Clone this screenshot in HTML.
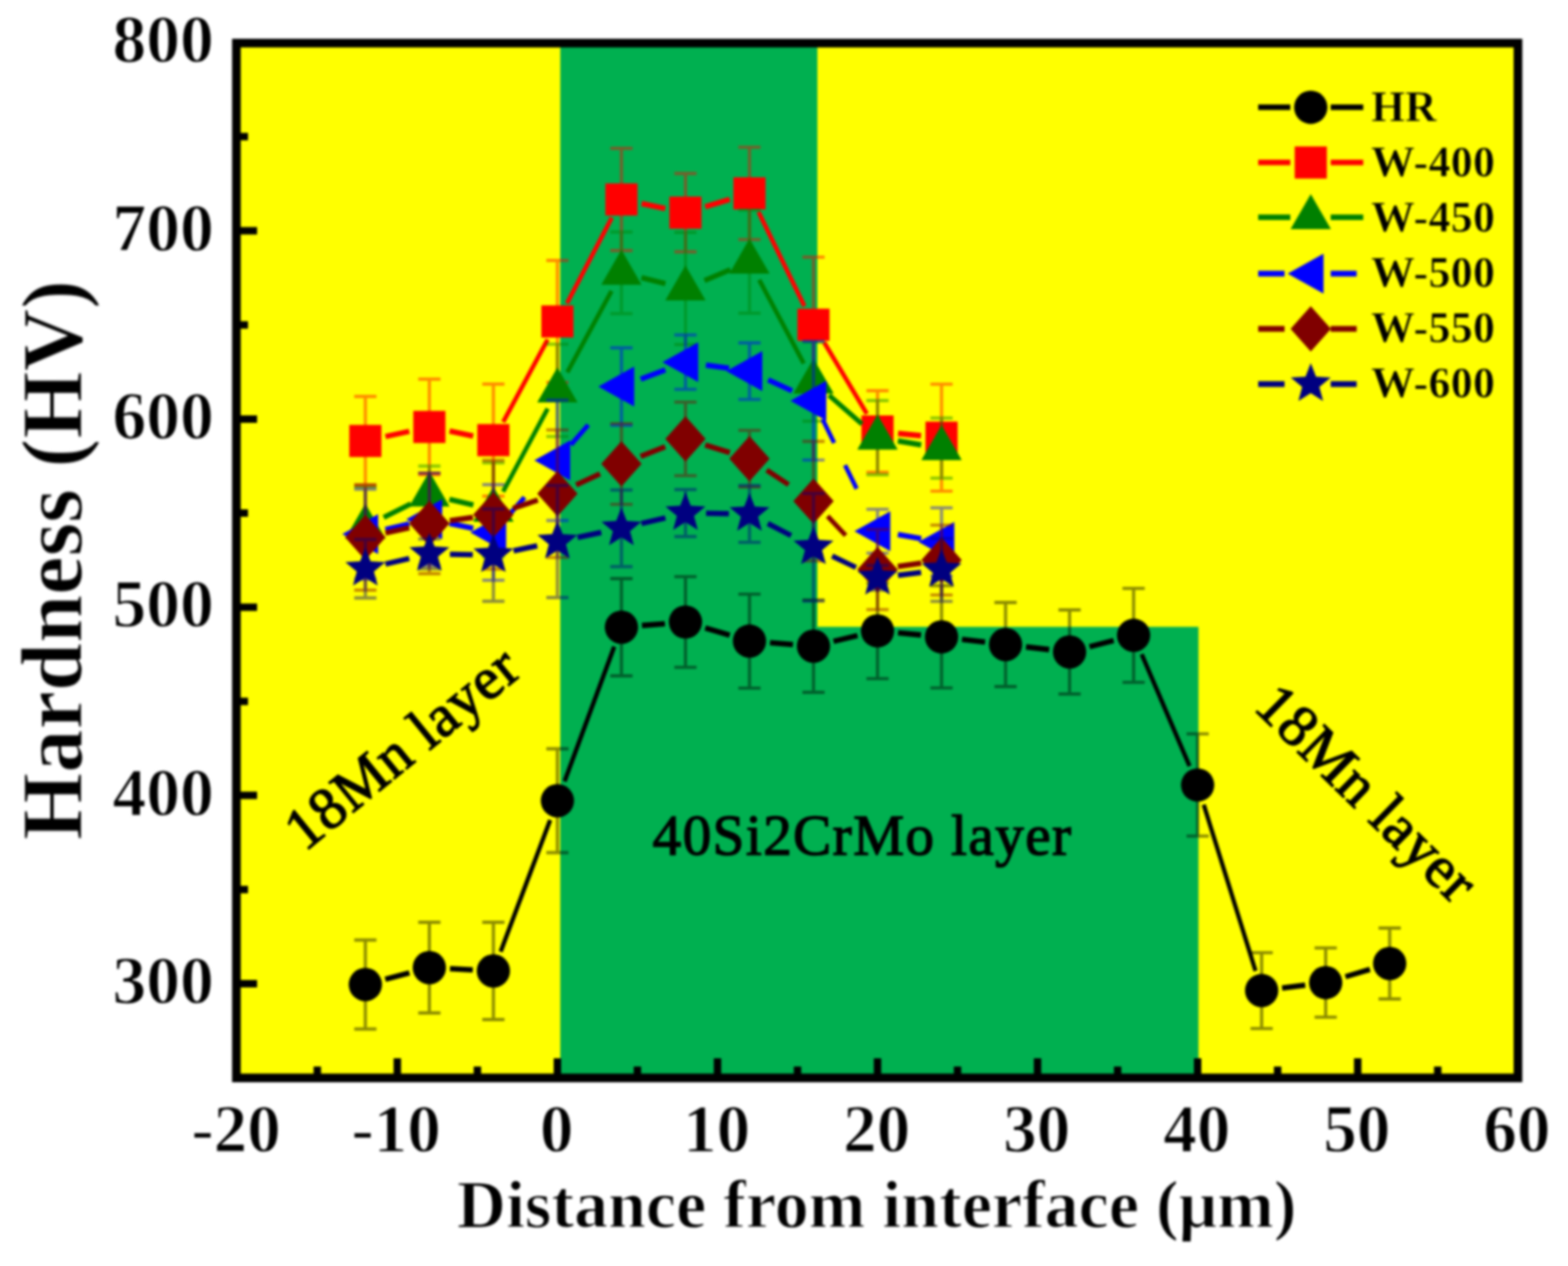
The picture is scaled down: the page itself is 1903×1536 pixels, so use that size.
<!DOCTYPE html>
<html lang="en"><head><meta charset="utf-8"><title>Hardness (HV) vs distance from interface</title>
<style>html,body{margin:0;padding:0;background:#fff}body{width:1903px;height:1536px}svg{display:block}text{font-family:"Liberation Serif","DejaVu Serif",serif;fill:#000}.b{font-weight:bold;stroke:#fff;stroke-width:1.4px}.l{stroke:#ff0;stroke-width:0.7px}.a{stroke:#000;stroke-width:1.6px}</style></head><body>
<svg width="1903" height="1536" viewBox="0 0 1903 1536">
<defs><filter id="soft" x="-2%" y="-2%" width="104%" height="104%" color-interpolation-filters="sRGB"><feGaussianBlur stdDeviation="1.5"/></filter></defs>
<rect width="1903" height="1536" fill="#fff"/>
<g filter="url(#soft)">
<rect x="288.0" y="52.8" width="1554.0" height="1254.7" fill="#ffff00"/>
<rect x="680" y="52.8" width="312" height="1254.7" fill="#00b050"/>
<rect x="680" y="760.5" width="774.5" height="547.0" fill="#00b050"/>
<text class="a" x="792" y="1037" font-size="69.5" letter-spacing="1.67">40Si2CrMo layer</text>
<text class="a" transform="translate(370,1034) rotate(-39.2)" font-size="72" letter-spacing="0.9">18Mn layer</text>
<text class="a" transform="translate(1520,859.5) rotate(44.4)" font-size="72" letter-spacing="0.9">18Mn layer</text>
<path d="M443.4 1140.5V1248.5M429.9 1140.5h27M429.9 1248.5h27M521.1 1119V1229M507.6 1119h27M507.6 1229h27M598.8 1119V1237M585.3 1119h27M585.3 1237h27M676.5 908.5V1034.5M663 908.5h27M663 1034.5h27M754.2 702V820M740.7 702h27M740.7 820h27M831.9 699.6V809.6M818.4 699.6h27M818.4 809.6h27M909.6 720.8V834.8M896.1 720.8h27M896.1 834.8h27M987.3 728V840M973.8 728h27M973.8 840h27M1065 707.4V823.4M1051.5 707.4h27M1051.5 823.4h27M1142.7 710.7V834.7M1129.2 710.7h27M1129.2 834.7h27M1220.4 731V833M1206.9 731h27M1206.9 833h27M1298.1 740V842M1284.6 740h27M1284.6 842h27M1375.8 713.8V827.8M1362.3 713.8h27M1362.3 827.8h27M1453.5 890.4V1014.4M1440 890.4h27M1440 1014.4h27M1531.2 1155.8V1247.8M1517.7 1155.8h27M1517.7 1247.8h27M1608.9 1150.2V1234.2M1595.4 1150.2h27M1595.4 1234.2h27M1686.6 1126V1212M1673.1 1126h27M1673.1 1212h27" stroke="#000000" stroke-opacity="0.45" stroke-width="3.8" fill="none"/>
<g stroke="#000000" stroke-width="6.5" fill="none">
<line x1="467.6" y1="1188.1" x2="496.9" y2="1180.4" stroke-width="6.5"/>
<line x1="546.1" y1="1175.3" x2="573.8" y2="1176.7" stroke-width="6.6"/>
<line x1="607.6" y1="1154.6" x2="667.7" y2="994.9" stroke-width="5.2"/>
<line x1="685.2" y1="948" x2="745.5" y2="784.5" stroke-width="5.2"/>
<line x1="779.1" y1="758.9" x2="807" y2="756.7" stroke-width="6.6"/>
<line x1="855.9" y1="761.8" x2="885.6" y2="770.6" stroke-width="6.5"/>
<line x1="934.5" y1="779.8" x2="962.4" y2="782" stroke-width="6.6"/>
<line x1="1011.6" y1="778.2" x2="1040.7" y2="771.2" stroke-width="6.5"/>
<line x1="1089.9" y1="767.7" x2="1117.8" y2="770.4" stroke-width="6.6"/>
<line x1="1167.5" y1="775.7" x2="1195.6" y2="779" stroke-width="6.6"/>
<line x1="1245.2" y1="784.9" x2="1273.3" y2="788.1" stroke-width="6.6"/>
<line x1="1322.3" y1="784.7" x2="1351.6" y2="777.1" stroke-width="6.5"/>
<line x1="1385.6" y1="793.8" x2="1443.7" y2="929.4" stroke-width="5.2"/>
<line x1="1460.9" y1="976.3" x2="1523.8" y2="1177.9" stroke-width="5.1"/>
<line x1="1556" y1="1198.7" x2="1584.1" y2="1195.3" stroke-width="6.6"/>
<line x1="1632.9" y1="1185" x2="1662.6" y2="1176.2" stroke-width="6.5"/>
</g>
<g>
<circle cx="443.4" cy="1194.5" r="20.2" fill="#000000"/>
<circle cx="521.1" cy="1174" r="20.2" fill="#000000"/>
<circle cx="598.8" cy="1178" r="20.2" fill="#000000"/>
<circle cx="676.5" cy="971.5" r="20.2" fill="#000000"/>
<circle cx="754.2" cy="761" r="20.2" fill="#000000"/>
<circle cx="831.9" cy="754.6" r="20.2" fill="#000000"/>
<circle cx="909.6" cy="777.8" r="20.2" fill="#000000"/>
<circle cx="987.3" cy="784" r="20.2" fill="#000000"/>
<circle cx="1065" cy="765.4" r="20.2" fill="#000000"/>
<circle cx="1142.7" cy="772.7" r="20.2" fill="#000000"/>
<circle cx="1220.4" cy="782" r="20.2" fill="#000000"/>
<circle cx="1298.1" cy="791" r="20.2" fill="#000000"/>
<circle cx="1375.8" cy="770.8" r="20.2" fill="#000000"/>
<circle cx="1453.5" cy="952.4" r="20.2" fill="#000000"/>
<circle cx="1531.2" cy="1201.8" r="20.2" fill="#000000"/>
<circle cx="1608.9" cy="1192.2" r="20.2" fill="#000000"/>
<circle cx="1686.6" cy="1169" r="20.2" fill="#000000"/>
</g>
<path d="M443.4 481V589M429.9 481h27M429.9 589h27M521.1 460V576M507.6 460h27M507.6 576h27M598.8 466V602M585.3 466h27M585.3 602h27M676.5 316V464M663 316h27M663 464h27M754.2 180V304M740.7 180h27M740.7 304h27M831.9 210.5V305.5M818.4 210.5h27M818.4 305.5h27M909.6 178.6V290.6M896.1 178.6h27M896.1 290.6h27M987.3 312V476M973.8 312h27M973.8 476h27M1065 474V573M1051.5 474h27M1051.5 573h27M1142.7 466.2V595.8M1129.2 466.2h27M1129.2 595.8h27" stroke="#ff0000" stroke-opacity="0.45" stroke-width="3.8" fill="none"/>
<g stroke="#ff0000" stroke-width="6.5" fill="none">
<line x1="467.8" y1="529.7" x2="496.7" y2="523.3" stroke-width="6.5"/>
<line x1="545.6" y1="523" x2="574.3" y2="529" stroke-width="6.5"/>
<line x1="610.7" y1="512" x2="664.6" y2="412" stroke-width="5.4"/>
<line x1="688.1" y1="367.9" x2="742.6" y2="264.1" stroke-width="5.3"/>
<line x1="778.7" y1="247" x2="807.4" y2="253" stroke-width="6.5"/>
<line x1="855.8" y1="250.8" x2="885.7" y2="241.8" stroke-width="6.5"/>
<line x1="920.6" y1="257.1" x2="976.3" y2="371.5" stroke-width="5.3"/>
<line x1="1000.2" y1="415.4" x2="1052.1" y2="502.1" stroke-width="5.4"/>
<line x1="1089.9" y1="525.9" x2="1117.8" y2="528.6" stroke-width="6.6"/>
</g>
<g>
<rect x="423.9" y="515.5" width="39" height="39" fill="#ff0000"/>
<rect x="501.6" y="498.5" width="39" height="39" fill="#ff0000"/>
<rect x="579.3" y="514.5" width="39" height="39" fill="#ff0000"/>
<rect x="657" y="370.5" width="39" height="39" fill="#ff0000"/>
<rect x="734.7" y="222.5" width="39" height="39" fill="#ff0000"/>
<rect x="812.4" y="238.5" width="39" height="39" fill="#ff0000"/>
<rect x="890.1" y="215.1" width="39" height="39" fill="#ff0000"/>
<rect x="967.8" y="374.5" width="39" height="39" fill="#ff0000"/>
<rect x="1045.5" y="504" width="39" height="39" fill="#ff0000"/>
<rect x="1123.2" y="511.5" width="39" height="39" fill="#ff0000"/>
</g>
<path d="M443.4 591V687M429.9 591h27M429.9 687h27M521.1 565.5V634.5M507.6 565.5h27M507.6 634.5h27M598.8 561.5V675.5M585.3 561.5h27M585.3 675.5h27M676.5 417.7V529.7M663 417.7h27M663 529.7h27M754.2 281.5V380.5M740.7 281.5h27M740.7 380.5h27M831.9 282V418M818.4 282h27M818.4 418h27M909.6 255V380M896.1 255h27M896.1 380h27M987.3 415V511M973.8 415h27M973.8 511h27M1065 486V576M1051.5 486h27M1051.5 576h27M1142.7 507.2V580.2M1129.2 507.2h27M1129.2 580.2h27" stroke="#008000" stroke-opacity="0.45" stroke-width="3.8" fill="none"/>
<g stroke="#008000" stroke-width="6.5" fill="none">
<line x1="465.7" y1="627.8" x2="498.8" y2="611.2" stroke-width="6.3"/>
<line x1="545.4" y1="605.8" x2="574.5" y2="612.7" stroke-width="6.5"/>
<line x1="610.6" y1="596.5" x2="664.7" y2="495.7" stroke-width="5.4"/>
<line x1="688.5" y1="451.7" x2="742.2" y2="353" stroke-width="5.4"/>
<line x1="778.5" y1="336.9" x2="807.6" y2="344.1" stroke-width="6.5"/>
<line x1="855" y1="340.4" x2="886.5" y2="327.1" stroke-width="6.4"/>
<line x1="921.4" y1="339.6" x2="975.5" y2="440.9" stroke-width="5.4"/>
<line x1="1006.1" y1="479.5" x2="1046.2" y2="514.5" stroke-width="5.9"/>
<line x1="1089.7" y1="535" x2="1118" y2="539.7" stroke-width="6.6"/>
</g>
<g>
<polygon points="443.4,611 467.9,653.5 418.9,653.5" fill="#008000"/>
<polygon points="521.1,572 545.6,614.5 496.6,614.5" fill="#008000"/>
<polygon points="598.8,590.5 623.3,633 574.3,633" fill="#008000"/>
<polygon points="676.5,445.7 701,488.2 652,488.2" fill="#008000"/>
<polygon points="754.2,303 778.7,345.5 729.7,345.5" fill="#008000"/>
<polygon points="831.9,322 856.4,364.5 807.4,364.5" fill="#008000"/>
<polygon points="909.6,289.5 934.1,332 885.1,332" fill="#008000"/>
<polygon points="987.3,435 1011.8,477.5 962.8,477.5" fill="#008000"/>
<polygon points="1065,503 1089.5,545.5 1040.5,545.5" fill="#008000"/>
<polygon points="1142.7,515.7 1167.2,558.2 1118.2,558.2" fill="#008000"/>
</g>
<path d="M443.4 593.5V702.5M429.9 593.5h27M429.9 702.5h27M521.1 574V686M507.6 574h27M507.6 686h27M598.8 588V704M585.3 588h27M585.3 704h27M676.5 485.5V631.5M663 485.5h27M663 631.5h27M754.2 422V516M740.7 422h27M740.7 516h27M831.9 406.4V472.4M818.4 406.4h27M818.4 472.4h27M909.6 416V484.6M896.1 416h27M896.1 484.6h27M987.3 414.2V558.2M973.8 414.2h27M973.8 558.2h27M1065 617.9V671.1M1051.5 617.9h27M1051.5 671.1h27M1142.7 616.1V698.9M1129.2 616.1h27M1129.2 698.9h27" stroke="#0000ff" stroke-opacity="0.45" stroke-width="3.8" fill="none"/>
<g stroke="#0000ff" stroke-width="6.5" fill="none">
<line x1="467.8" y1="642.4" x2="496.7" y2="635.6" stroke-width="6.5"/>
<line x1="545.6" y1="635" x2="574.3" y2="641" stroke-width="6.5"/>
<line x1="615.4" y1="627.3" x2="636.6" y2="603.4" stroke-width="5.7"/>
<line x1="692.9" y1="539.6" x2="713.9" y2="515.5" stroke-width="5.7"/>
<line x1="777.6" y1="460.1" x2="807.5" y2="448.7" stroke-width="6.4"/>
<line x1="856.7" y1="442.9" x2="884.8" y2="446.8" stroke-width="6.6"/>
<line x1="932.3" y1="460.8" x2="961.3" y2="474.2" stroke-width="6.3"/>
<line x1="998.3" y1="508.6" x2="1012.4" y2="537.4" stroke-width="5.3"/>
<line x1="1025.6" y1="564.3" x2="1039.7" y2="593" stroke-width="5.3"/>
<line x1="1089.7" y1="648.6" x2="1118" y2="653.4" stroke-width="6.6"/>
</g>
<g>
<polygon points="415.4,648 458.9,623.8 458.9,672.2" fill="#0000ff"/>
<polygon points="493.1,630 536.6,605.8 536.6,654.2" fill="#0000ff"/>
<polygon points="570.8,646 614.3,621.8 614.3,670.2" fill="#0000ff"/>
<polygon points="648.5,558.5 692,534.3 692,582.7" fill="#0000ff"/>
<polygon points="726.2,469 769.7,444.8 769.7,493.2" fill="#0000ff"/>
<polygon points="803.9,439.4 847.4,415.2 847.4,463.6" fill="#0000ff"/>
<polygon points="881.6,450.3 925.1,426.1 925.1,474.5" fill="#0000ff"/>
<polygon points="959.3,486.2 1002.8,462 1002.8,510.4" fill="#0000ff"/>
<polygon points="1037,644.5 1080.5,620.3 1080.5,668.7" fill="#0000ff"/>
<polygon points="1114.7,657.5 1158.2,633.3 1158.2,681.7" fill="#0000ff"/>
</g>
<path d="M443.4 588V716M429.9 588h27M429.9 716h27M521.1 574V696M507.6 574h27M507.6 696h27M598.8 558.5V690.5M585.3 558.5h27M585.3 690.5h27M676.5 521.6V676.4M663 521.6h27M663 676.4h27M754.2 513.8V611.8M740.7 513.8h27M740.7 611.8h27M831.9 487.8V577.2M818.4 487.8h27M818.4 577.2h27M909.6 522.2V591M896.1 522.2h27M896.1 591h27M987.3 535.5V680.5M973.8 535.5h27M973.8 680.5h27M1065 642.4V739.6M1051.5 642.4h27M1051.5 739.6h27M1142.7 637.1V721.9M1129.2 637.1h27M1129.2 721.9h27" stroke="#800000" stroke-opacity="0.45" stroke-width="3.8" fill="none"/>
<g stroke="#800000" stroke-width="6.5" fill="none">
<line x1="467.8" y1="646.7" x2="496.7" y2="640.3" stroke-width="6.5"/>
<line x1="545.9" y1="631.7" x2="574" y2="627.8" stroke-width="6.6"/>
<line x1="622.6" y1="616.7" x2="652.7" y2="606.8" stroke-width="6.4"/>
<line x1="699.2" y1="588.4" x2="728.2" y2="574.9" stroke-width="6.3"/>
<line x1="777.5" y1="553.7" x2="807.3" y2="542.1" stroke-width="6.4"/>
<line x1="855.8" y1="539.9" x2="885.7" y2="549.2" stroke-width="6.5"/>
<line x1="930.5" y1="570.4" x2="957.1" y2="588" stroke-width="6.1"/>
<line x1="1004.4" y1="626.3" x2="1026.3" y2="649.6" stroke-width="5.7"/>
<line x1="1089.7" y1="687.3" x2="1118" y2="683.2" stroke-width="6.6"/>
</g>
<g>
<polygon points="443.4,624.5 467.9,652 443.4,679.5 418.9,652" fill="#800000"/>
<polygon points="521.1,607.5 545.6,635 521.1,662.5 496.6,635" fill="#800000"/>
<polygon points="598.8,597 623.3,624.5 598.8,652 574.3,624.5" fill="#800000"/>
<polygon points="676.5,571.5 701,599 676.5,626.5 652,599" fill="#800000"/>
<polygon points="754.2,535.3 778.7,562.8 754.2,590.3 729.7,562.8" fill="#800000"/>
<polygon points="831.9,505 856.4,532.5 831.9,560 807.4,532.5" fill="#800000"/>
<polygon points="909.6,529.1 934.1,556.6 909.6,584.1 885.1,556.6" fill="#800000"/>
<polygon points="987.3,580.5 1011.8,608 987.3,635.5 962.8,608" fill="#800000"/>
<polygon points="1065,663.5 1089.5,691 1065,718.5 1040.5,691" fill="#800000"/>
<polygon points="1142.7,652 1167.2,679.5 1142.7,707 1118.2,679.5" fill="#800000"/>
</g>
<path d="M443.4 654.5V725.5M429.9 654.5h27M429.9 725.5h27M521.1 654V690M507.6 654h27M507.6 690h27M598.8 617.5V729.5M585.3 617.5h27M585.3 729.5h27M676.5 589V725M663 589h27M663 725h27M754.2 594.5V687.5M740.7 594.5h27M740.7 687.5h27M831.9 594V651M818.4 594h27M818.4 651h27M909.6 589V658M896.1 589h27M896.1 658h27M987.3 598.6V729.4M973.8 598.6h27M973.8 729.4h27M1065 686V716M1051.5 686h27M1051.5 716h27M1142.7 653.3V729.7M1129.2 653.3h27M1129.2 729.7h27" stroke="#000080" stroke-opacity="0.45" stroke-width="3.8" fill="none"/>
<g stroke="#000080" stroke-width="6.5" fill="none">
<line x1="467.8" y1="684.4" x2="496.7" y2="677.6" stroke-width="6.5"/>
<line x1="546.1" y1="672.5" x2="573.8" y2="673" stroke-width="6.6"/>
<line x1="623.3" y1="668.3" x2="652" y2="662.2" stroke-width="6.5"/>
<line x1="701" y1="652" x2="729.7" y2="646" stroke-width="6.5"/>
<line x1="778.5" y1="635.2" x2="807.6" y2="628.3" stroke-width="6.5"/>
<line x1="856.9" y1="622.8" x2="884.6" y2="623.2" stroke-width="6.6"/>
<line x1="931.8" y1="635.1" x2="960.1" y2="649.8" stroke-width="6.3"/>
<line x1="1009.9" y1="674.7" x2="1038.8" y2="688.5" stroke-width="6.3"/>
<line x1="1089.8" y1="698" x2="1117.9" y2="694.5" stroke-width="6.6"/>
</g>
<g>
<polygon points="443.4,664.5 449.8,681.1 467.7,682.1 453.8,693.4 458.4,710.6 443.4,701 428.4,710.6 433,693.4 419.1,682.1 437,681.1" fill="#000080"/>
<polygon points="521.1,646.5 527.5,663.1 545.4,664.1 531.5,675.4 536.1,692.6 521.1,683 506.1,692.6 510.7,675.4 496.8,664.1 514.7,663.1" fill="#000080"/>
<polygon points="598.8,648 605.2,664.6 623.1,665.6 609.2,676.9 613.8,694.1 598.8,684.5 583.8,694.1 588.4,676.9 574.5,665.6 592.4,664.6" fill="#000080"/>
<polygon points="676.5,631.5 682.9,648.1 700.8,649.1 686.9,660.4 691.5,677.6 676.5,668 661.5,677.6 666.1,660.4 652.2,649.1 670.1,648.1" fill="#000080"/>
<polygon points="754.2,615.5 760.6,632.1 778.5,633.1 764.6,644.4 769.2,661.6 754.2,652 739.2,661.6 743.8,644.4 729.9,633.1 747.8,632.1" fill="#000080"/>
<polygon points="831.9,597 838.3,613.6 856.2,614.6 842.3,625.9 846.9,643.1 831.9,633.5 816.9,643.1 821.5,625.9 807.6,614.6 825.5,613.6" fill="#000080"/>
<polygon points="909.6,598 916,614.6 933.9,615.6 920,626.9 924.6,644.1 909.6,634.5 894.6,644.1 899.2,626.9 885.3,615.6 903.2,614.6" fill="#000080"/>
<polygon points="987.3,638.5 993.7,655.1 1011.6,656.1 997.7,667.4 1002.3,684.6 987.3,675 972.3,684.6 976.9,667.4 963,656.1 980.9,655.1" fill="#000080"/>
<polygon points="1065,675.5 1071.4,692.1 1089.3,693.1 1075.4,704.4 1080,721.6 1065,712 1050,721.6 1054.6,704.4 1040.7,693.1 1058.6,692.1" fill="#000080"/>
<polygon points="1142.7,666 1149.1,682.6 1167,683.6 1153.1,694.9 1157.7,712.1 1142.7,702.5 1127.7,712.1 1132.3,694.9 1118.4,683.6 1136.3,682.6" fill="#000080"/>
</g>
<path d="M1527 130.2H1566M1615 130.2H1654.5" stroke="#000000" stroke-width="6.8" fill="none"/>
<circle cx="1590.8" cy="130.2" r="20.2" fill="#000000"/>
<text class="b l" x="1664" y="147.4" font-size="53">HR</text>
<path d="M1527 197.2H1566M1615 197.2H1654.5" stroke="#ff0000" stroke-width="6.8" fill="none"/>
<rect x="1571.3" y="177.7" width="39" height="39" fill="#ff0000"/>
<text class="b l" x="1664" y="214.4" font-size="53" letter-spacing="0.5">W-400</text>
<path d="M1527 263.6H1566M1615 263.6H1654.5" stroke="#008000" stroke-width="6.8" fill="none"/>
<polygon points="1590.8,235.6 1615.3,278.1 1566.3,278.1" fill="#008000"/>
<text class="b l" x="1664" y="281.4" font-size="53" letter-spacing="0.5">W-450</text>
<path d="M1527 332H1559M1615 332H1646.5" stroke="#0000ff" stroke-width="6.8" fill="none"/>
<polygon points="1562.8,332 1606.3,307.8 1606.3,356.2" fill="#0000ff"/>
<text class="b l" x="1664" y="348.4" font-size="53" letter-spacing="0.5">W-500</text>
<path d="M1527 399H1559M1615 399H1646.5" stroke="#800000" stroke-width="6.8" fill="none"/>
<polygon points="1590.8,371.5 1615.3,399 1590.8,426.5 1566.3,399" fill="#800000"/>
<text class="b l" x="1664" y="415.4" font-size="53" letter-spacing="0.5">W-550</text>
<path d="M1527 466H1559M1615 466H1646.5" stroke="#000080" stroke-width="6.8" fill="none"/>
<polygon points="1590.8,440.5 1597.2,457.1 1615.1,458.1 1601.2,469.4 1605.8,486.6 1590.8,477 1575.8,486.6 1580.4,469.4 1566.5,458.1 1584.4,457.1" fill="#000080"/>
<text class="b l" x="1664" y="482.4" font-size="53" letter-spacing="0.5">W-600</text>
<path d="M288.0 1193.4H312M288.0 965.1H312M288.0 736.7H312M288.0 508.4H312M288.0 280H312" stroke="#000" stroke-width="9" fill="none"/>
<path d="M288.0 1079.2H301M288.0 850.9H301M288.0 622.5H301M288.0 394.2H301M288.0 165.8H301" stroke="#000" stroke-width="9" fill="none"/>
<path d="M482.2 1307.5V1284M676.5 1307.5V1284M870.8 1307.5V1284M1065 1307.5V1284M1259.2 1307.5V1284M1453.5 1307.5V1284M1647.8 1307.5V1284" stroke="#000" stroke-width="9" fill="none"/>
<path d="M385.1 1307.5V1294M579.4 1307.5V1294M773.6 1307.5V1294M967.9 1307.5V1294M1162.1 1307.5V1294M1356.4 1307.5V1294M1550.6 1307.5V1294M1744.9 1307.5V1294" stroke="#000" stroke-width="9" fill="none"/>
<rect x="286.9" y="52.3" width="1555.4" height="1255.5" fill="none" stroke="#000" stroke-width="10.5"/>
<text class="b" x="259.5" y="1216.9" font-size="82" text-anchor="end">300</text>
<text class="b" x="259.5" y="988.6" font-size="82" text-anchor="end">400</text>
<text class="b" x="259.5" y="760.2" font-size="82" text-anchor="end">500</text>
<text class="b" x="259.5" y="531.9" font-size="82" text-anchor="end">600</text>
<text class="b" x="259.5" y="303.5" font-size="82" text-anchor="end">700</text>
<text class="b" x="259.5" y="75.1" font-size="82" text-anchor="end">800</text>
<text class="b" x="286.5" y="1397.3" font-size="81.5" text-anchor="middle">-20</text>
<text class="b" x="480.8" y="1397.3" font-size="81.5" text-anchor="middle">-10</text>
<text class="b" x="675.5" y="1397.3" font-size="81.5" text-anchor="middle">0</text>
<text class="b" x="869.8" y="1397.3" font-size="81.5" text-anchor="middle">10</text>
<text class="b" x="1064" y="1397.3" font-size="81.5" text-anchor="middle">20</text>
<text class="b" x="1258.2" y="1397.3" font-size="81.5" text-anchor="middle">30</text>
<text class="b" x="1452.5" y="1397.3" font-size="81.5" text-anchor="middle">40</text>
<text class="b" x="1646.8" y="1397.3" font-size="81.5" text-anchor="middle">50</text>
<text class="b" x="1841" y="1397.3" font-size="81.5" text-anchor="middle">60</text>
<text class="b" x="1064" y="1488.5" font-size="82.5" text-anchor="middle">Distance from interface (μm)</text>
<text class="b" transform="translate(99,679.5) rotate(-90)" font-size="105" text-anchor="middle">Hardness (HV)</text>
</g>
</svg>
</body></html>
